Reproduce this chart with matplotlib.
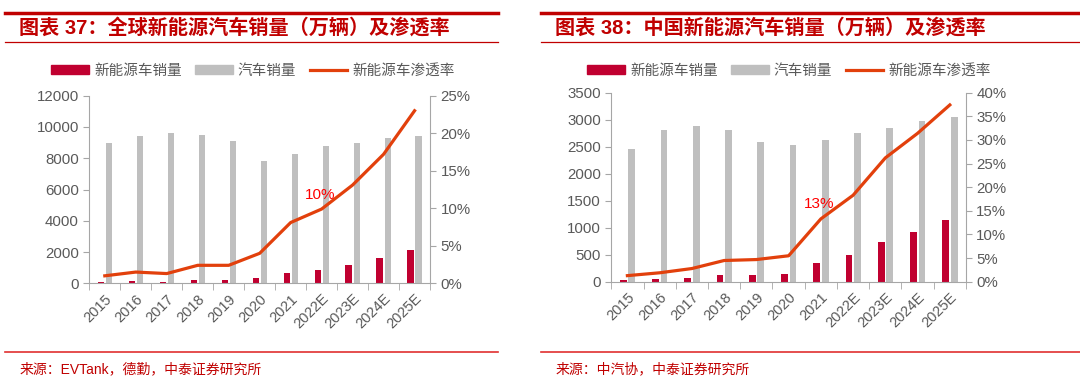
import matplotlib
matplotlib.use("Agg")
import matplotlib.pyplot as plt
from matplotlib.lines import Line2D
from matplotlib.patches import Patch
from matplotlib.ticker import FuncFormatter, MultipleLocator
import numpy as np

plt.rcParams["font.family"] = ["Liberation Sans", "Noto Sans CJK SC"]

# ---------------------------------------------------------------------------
# Data
# ---------------------------------------------------------------------------
years = ["2015", "2016", "2017", "2018", "2019", "2020", "2021",
         "2022E", "2023E", "2024E", "2025E"]

# Global (万辆)
global_nev = [90, 130, 110, 210, 220, 320, 680, 870, 1190, 1600, 2150]
global_car = [9000, 9400, 9600, 9500, 9100, 7800, 8300, 8800, 9000, 9300, 9400]
global_pen = [1.0, 1.5, 1.3, 2.4, 2.4, 4.0, 8.1, 9.9, 13.1, 17.2, 23.0]

# China (万辆)
china_nev = [33, 50, 77, 125, 120, 137, 352, 500, 740, 925, 1135]
china_car = [2460, 2800, 2890, 2810, 2580, 2530, 2630, 2750, 2850, 2970, 3050]
china_pen = [1.3, 1.9, 2.8, 4.5, 4.7, 5.5, 13.3, 18.3, 26.2, 31.4, 37.4]

legend_labels = ["新能源车销量", "汽车销量", "新能源车渗透率"]

RED_BAR = "#C00030"
GRAY_BAR = "#BFBFBF"
LINE_C = "#E2400C"
TITLE_C = "#C00000"
TICK_C = "#595959"
AXIS_C = "#A6A6A6"


def draw_panel(fig, rect, nev, car, pen, ymax, ystep, pmax, note_idx, note):
    ax = fig.add_axes(rect)
    x = np.arange(len(years))
    w = 0.21
    ax.bar(x - 0.125, nev, width=w, color=RED_BAR, zorder=2)
    ax.bar(x + 0.135, car, width=w, color=GRAY_BAR, zorder=2)
    ax.set_xlim(-0.5, len(years) - 0.5)
    ax.set_ylim(0, ymax)
    ax.yaxis.set_major_locator(MultipleLocator(ystep))

    ax.set_xticks(x)
    ax.set_xticklabels(years, rotation=45, ha="right", rotation_mode="anchor")
    ax.set_xticks(np.arange(-0.5, len(years)), minor=True)
    ax.tick_params(axis="x", which="major", length=0, pad=6,
                   labelsize=10.5, labelcolor=TICK_C)
    ax.tick_params(axis="x", which="minor", length=5, color=AXIS_C)
    ax.tick_params(axis="y", length=4, color=AXIS_C, labelsize=10.8,
                   labelcolor=TICK_C)
    for s in ["top", "right"]:
        ax.spines[s].set_visible(False)
    for s in ["left", "bottom"]:
        ax.spines[s].set_color(AXIS_C)

    ax2 = ax.twinx()
    ax2.plot(x, pen, color=LINE_C, linewidth=2.3, zorder=3)
    ax2.set_ylim(0, pmax)
    ax2.yaxis.set_major_locator(MultipleLocator(5))
    ax2.yaxis.set_major_formatter(FuncFormatter(lambda v, p: f"{v:.0f}%"))
    ax2.tick_params(axis="y", length=4, color=AXIS_C, labelsize=10.8,
                    labelcolor=TICK_C)
    for s in ["top", "left", "bottom"]:
        ax2.spines[s].set_visible(False)
    ax2.spines["right"].set_color(AXIS_C)

    ax2.text(note_idx - 0.05, pen[note_idx] + pmax * 0.04, note,
             color="#FF0000", fontsize=11, ha="center", va="bottom")
    return ax


fig = plt.figure(figsize=(10.8, 3.86), dpi=100)

draw_panel(fig, [0.0827, 0.266, 0.3155, 0.486],
           global_nev, global_car, global_pen, 12000, 2000, 25, 7, "10%")
draw_panel(fig, [0.566, 0.270, 0.3284, 0.490],
           china_nev, china_car, china_pen, 3500, 500, 40, 6, "13%")

titles = ["图表 37：全球新能源汽车销量（万辆）及渗透率",
          "图表 38：中国新能源汽车销量（万辆）及渗透率"]
sources = ["来源：EVTank，德勤，中泰证券研究所",
           "来源：中汽协，中泰证券研究所"]
spans = [(5 / 1080, 498 / 1080), (541 / 1080, 1.0)]
legend_x = [51 / 1080, 587 / 1080]

for (x0, x1), title, src, lx in zip(spans, titles, sources, legend_x):
    fig.add_artist(Line2D([x0, x1], [1 - 13 / 386] * 2, color=TITLE_C, lw=2.5))
    fig.add_artist(Line2D([x0, x1], [1 - 42 / 386] * 2, color=TITLE_C, lw=0.9))
    fig.text(x0 + 0.013, 1 - 28 / 386, title, color=TITLE_C, fontsize=14.5,
             fontweight="bold", va="center", ha="left")
    fig.add_artist(Line2D([x0, x1], [1 - 352 / 386] * 2, color="#E03030", lw=1.2))
    fig.text(x0 + 0.013, 1 - 369 / 386, src, color="#C00000", fontsize=10,
             va="center", ha="left")

    handles = [Patch(color=RED_BAR), Patch(color=GRAY_BAR),
               Line2D([0], [0], color=LINE_C, lw=2.3)]
    fig.legend(handles, legend_labels, loc="center left",
               bbox_to_anchor=(lx, 1 - 71 / 386), ncol=3, frameon=False,
               fontsize=10.5, labelcolor=TICK_C, handlelength=2.6,
               handleheight=0.55, handletextpad=0.35, columnspacing=0.9,
               borderpad=0, borderaxespad=0)

fig.savefig("out.png", dpi=100)
